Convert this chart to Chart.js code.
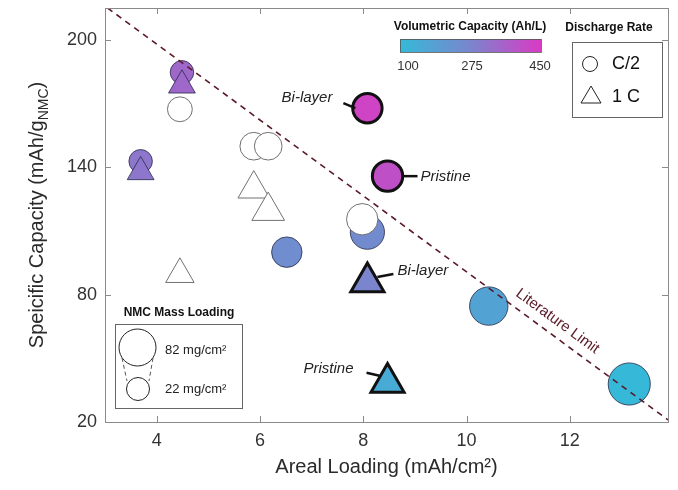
<!DOCTYPE html>
<html>
<head>
<meta charset="utf-8">
<script src="https://cdn.jsdelivr.net/npm/chart.js@4.4.1/dist/chart.umd.min.js"></script>
<style>
  html, body { margin: 0; padding: 0; background: #fff; }
  #wrap { width: 678px; height: 490px; position: relative; }
</style>
</head>
<body>
<div id="wrap"><canvas id="capChart"></canvas></div>
<script>
// axis ticks
var xTicks = [4, 6, 8, 10, 12];
var yTicks = [20, 80, 140, 200];

// C/2 points (circles): areal loading, specific capacity, volumetric capacity (null = not measured), NMC mass loading
var circleX    = [4.49, 4.45, 3.69, 5.88, 6.16, 6.52, 8.08, 7.98, 8.08, 8.47, 10.43, 13.15];
var circleY    = [184.7, 167.3, 142.8, 149.9, 149.9, 100.0, 109.4, 115.5, 167.8, 135.8, 74.6, 37.9];
var circleVol  = [345, null, 310, null, null, 250, 255, null, 430, 400, 175, 105];
var circleMass = [24, 30, 24, 42, 42, 54, 70, 58, 58, 62, 88, 104];
var circleTag  = ['', '', '', '', '', '', '', '', 'Bi-layer', 'Pristine', '', ''];

// 1 C points (triangles)
var triX    = [4.49, 3.69, 5.88, 6.16, 4.45, 8.08, 8.47];
var triY    = [178.6, 137.8, 129.8, 119.4, 89.6, 85.9, 38.5];
var triVol  = [345, 310, null, null, null, 275, 150];
var triMass = [24, 24, 42, 46, 30, 54, 54];
var triTag  = ['', '', '', '', '', 'Bi-layer', 'Pristine'];

// literature limit line
var limitX = [3.05, 13.9];
var limitY = [215, 21];

// colorbar
var volMin = 100, volMid = 275, volMax = 450;
var legendMass = [82, 22];

var cmapStops = [[volMin, [52, 186, 216]], [volMid, [122, 133, 206]], [volMax, [218, 58, 196]]];

function volColor(v) {
    if (v === null) return '#ffffff';
    var a = cmapStops[0], b = cmapStops[1];
    if (v > cmapStops[1][0]) { a = cmapStops[1]; b = cmapStops[2]; }
    var t = Math.max(0, Math.min(1, (v - a[0]) / (b[0] - a[0])));
    var c = [0, 1, 2].map(function (k) { return Math.round(a[1][k] + (b[1][k] - a[1][k]) * t); });
    return 'rgb(' + c.join(',') + ')';
}
function massRadius(m) { return 11.5 + (m - 22) * 7 / 60; }

function points(xs, ys) { return xs.map(function (x, i) { return { x: x, y: ys[i] }; }); }
function edge(vol, tag) { return tag ? '#111111' : (vol === null ? '#707070' : 'rgba(45,50,80,0.85)'); }

var circleData = {
    label: 'C/2',
    data: points(circleX, circleY),
    pointStyle: 'circle',
    pointRadius: circleMass.map(function (m, i) { return massRadius(m) - (circleTag[i] ? 1 : 0); }),
    backgroundColor: circleVol.map(volColor),
    borderColor: circleVol.map(function (v, i) { return edge(v, circleTag[i]); }),
    borderWidth: circleTag.map(function (t) { return t ? 3 : 1; }),
    order: 2
};
var triData = {
    label: '1 C',
    data: points(triX, triY),
    pointStyle: 'triangle',
    pointRadius: triMass.map(function (m, i) { return massRadius(m) * 1.32 - (triTag[i] ? 1 : 0); }),
    backgroundColor: triVol.map(volColor),
    borderColor: triVol.map(function (v, i) { return edge(v, triTag[i]); }),
    borderWidth: triTag.map(function (t) { return t ? 3 : 1; }),
    order: 1
};
var limitData = {
    label: 'Literature Limit',
    type: 'line',
    data: points(limitX, limitY),
    borderColor: '#5a1a28',
    borderWidth: 1.6,
    borderDash: [6, 5],
    pointRadius: 0,
    fill: false,
    order: 0
};

// label offsets (pixels) from the marker centre
var notes = [
    { ds: 2, idx: 8, tx: -35, ty: -10, align: 'right', l: [-24, -5, -12, 0] },
    { ds: 2, idx: 9, tx: 33, ty: 1, align: 'left', l: [15, 0, 30, 0] },
    { ds: 1, idx: 5, tx: 30, ty: -11, align: 'left', l: [10, -5, 26, -8] },
    { ds: 1, idx: 6, tx: -34, ty: -14, align: 'right', l: [-21, -10, -8, -7] }
];

function line(c, x1, y1, x2, y2) { c.beginPath(); c.moveTo(x1, y1); c.lineTo(x2, y2); c.stroke(); }

var decor = {
    id: 'decor',
    afterDatasetsDraw: function (chart) {
        var c = chart.ctx, a = chart.chartArea, xs = chart.scales.x, ys = chart.scales.y;
        c.save();

        // frame with inward ticks
        c.strokeStyle = '#8a8a8a';
        c.lineWidth = 1;
        c.strokeRect(a.left + 0.5, a.top + 0.5, a.right - a.left, a.bottom - a.top);
        xTicks.forEach(function (v) {
            var px = Math.round(xs.getPixelForValue(v)) + 0.5;
            line(c, px, a.bottom, px, a.bottom - 6);
            line(c, px, a.top, px, a.top + 6);
        });
        yTicks.forEach(function (v) {
            var py = Math.round(ys.getPixelForValue(v)) + 0.5;
            line(c, a.left, py, a.left + 6, py);
            line(c, a.right, py, a.right - 6, py);
        });

        // axis titles
        c.fillStyle = '#2a2a2a';
        c.font = '20px "Liberation Sans", Arial, sans-serif';
        c.textAlign = 'center';
        c.textBaseline = 'middle';
        c.fillText('Areal Loading (mAh/cm\u00b2)', (a.left + a.right) / 2, 467);

        c.save();
        c.translate(36, (a.top + a.bottom) / 2);
        c.rotate(-Math.PI / 2);
        var main = 'Speicific Capacity (mAh/g', sub = 'NMC', tail = ')';
        c.font = '20px "Liberation Sans", Arial, sans-serif';
        var w1 = c.measureText(main).width, w3 = c.measureText(tail).width;
        c.font = '14px "Liberation Sans", Arial, sans-serif';
        var w2 = c.measureText(sub).width;
        var x0 = -(w1 + w2 + w3) / 2;
        c.textAlign = 'left';
        c.textBaseline = 'alphabetic';
        c.font = '20px "Liberation Sans", Arial, sans-serif';
        c.fillText(main, x0, 7);
        c.font = '14px "Liberation Sans", Arial, sans-serif';
        c.fillText(sub, x0 + w1, 12);
        c.font = '20px "Liberation Sans", Arial, sans-serif';
        c.fillText(tail, x0 + w1 + w2, 7);
        c.restore();

        // literature limit label
        var lx = xs.getPixelForValue(11.6);
        var ly = ys.getPixelForValue(limitY[0] + (11.6 - limitX[0]) * (limitY[1] - limitY[0]) / (limitX[1] - limitX[0]));
        var ang = Math.atan2(ys.getPixelForValue(limitY[1]) - ys.getPixelForValue(limitY[0]),
                             xs.getPixelForValue(limitX[1]) - xs.getPixelForValue(limitX[0]));
        c.save();
        c.translate(lx + Math.sin(ang) * 14, ly - Math.cos(ang) * 14);
        c.rotate(ang);
        c.fillStyle = '#5a1a28';
        c.font = '15px "Liberation Sans", Arial, sans-serif';
        c.textAlign = 'center';
        c.textBaseline = 'middle';
        c.fillText('Literature Limit', 0, 0);
        c.restore();

        // point notes
        c.strokeStyle = '#111';
        c.lineWidth = 2.5;
        c.fillStyle = '#222';
        c.font = 'italic 15px "Liberation Sans", Arial, sans-serif';
        c.textBaseline = 'middle';
        notes.forEach(function (n) {
            var el = chart.getDatasetMeta(n.ds).data[n.idx];
            var tag = n.ds === 2 ? circleTag[n.idx] : triTag[n.idx];
            line(c, el.x + n.l[0], el.y + n.l[1], el.x + n.l[2], el.y + n.l[3]);
            c.textAlign = n.align;
            c.fillText(tag, el.x + n.tx, el.y + n.ty);
        });

        // colorbar
        c.font = 'bold 12px "Liberation Sans", Arial, sans-serif';
        c.textAlign = 'center';
        c.fillStyle = '#111';
        c.fillText('Volumetric Capacity (Ah/L)', 470, 27);
        var g = c.createLinearGradient(400, 0, 541, 0);
        cmapStops.forEach(function (s) { g.addColorStop((s[0] - volMin) / (volMax - volMin), volColor(s[0])); });
        c.fillStyle = g;
        c.fillRect(400, 39, 141, 13);
        c.lineWidth = 0.8;
        c.strokeStyle = '#555';
        c.strokeRect(400.5, 39.5, 141, 13);
        c.fillStyle = '#333';
        c.font = '13px "Liberation Sans", Arial, sans-serif';
        c.textAlign = 'center';
        c.fillText(String(volMin), 408, 66);
        c.fillText(String(volMid), 472, 66);
        c.fillText(String(volMax), 540, 66);

        // discharge rate legend
        c.fillStyle = '#111';
        c.font = 'bold 12px "Liberation Sans", Arial, sans-serif';
        c.fillText('Discharge Rate', 609, 28);
        c.strokeStyle = '#666';
        c.lineWidth = 1;
        c.strokeRect(572.5, 42.5, 90, 75);
        c.strokeStyle = '#222';
        c.beginPath(); c.arc(590, 64, 7.5, 0, Math.PI * 2); c.stroke();
        c.beginPath(); c.moveTo(591, 86); c.lineTo(601, 103); c.lineTo(581, 103); c.closePath(); c.stroke();
        c.fillStyle = '#111';
        c.font = '18px "Liberation Sans", Arial, sans-serif';
        c.textAlign = 'left';
        c.fillText('C/2', 612, 64);
        c.fillText('1 C', 612, 97);

        // mass loading legend
        c.font = 'bold 12px "Liberation Sans", Arial, sans-serif';
        c.textAlign = 'center';
        c.fillText('NMC Mass Loading', 179, 313);
        c.strokeStyle = '#666';
        c.strokeRect(115.5, 324.5, 127, 84);
        var rBig = massRadius(legendMass[0]), rSmall = massRadius(legendMass[1]);
        c.strokeStyle = '#222';
        c.beginPath(); c.arc(137.5, 347.5, rBig, 0, Math.PI * 2); c.stroke();
        c.beginPath(); c.arc(138, 389, rSmall, 0, Math.PI * 2); c.stroke();
        c.setLineDash([4, 3]);
        c.strokeStyle = '#555';
        line(c, 122, 358, 127, 381);
        line(c, 153, 358, 149, 381);
        c.setLineDash([]);
        c.fillStyle = '#222';
        c.font = '13px "Liberation Sans", Arial, sans-serif';
        c.textAlign = 'left';
        c.fillText(legendMass[0] + ' mg/cm\u00b2', 165, 350);
        c.fillText(legendMass[1] + ' mg/cm\u00b2', 165, 389);

        c.restore();
    }
};

var ctx = document.getElementById('capChart').getContext('2d');
var capChart = new Chart(ctx, {
    type: 'scatter',
    data: { datasets: [limitData, triData, circleData] },
    options: {
        responsive: true,
        maintainAspectRatio: false,
        animation: false,
        events: [],
        layout: { autoPadding: false, padding: { top: 8, right: 10, left: 0, bottom: 0 } },
        plugins: { legend: { display: false }, tooltip: { enabled: false } },
        elements: { point: { hoverRadius: 0 } },
        scales: {
            x: {
                type: 'linear',
                min: 3,
                max: 13.9,
                afterBuildTicks: function (s) { s.ticks = xTicks.map(function (v) { return { value: v }; }); },
                afterFit: function (s) { s.height = 68; s.paddingLeft = 0; s.paddingRight = 0; },
                grid: { display: false, drawTicks: false },
                border: { display: false },
                ticks: { color: '#333', padding: 8, font: { size: 18, family: '"Liberation Sans", Arial, sans-serif' } }
            },
            y: {
                type: 'linear',
                min: 20,
                max: 215,
                afterBuildTicks: function (s) { s.ticks = yTicks.map(function (v) { return { value: v }; }); },
                afterFit: function (s) { s.width = 105; s.paddingTop = 0; s.paddingBottom = 0; },
                grid: { display: false, drawTicks: false },
                border: { display: false },
                ticks: { color: '#333', padding: 8, font: { size: 18, family: '"Liberation Sans", Arial, sans-serif' } }
            }
        }
    },
    plugins: [decor]
});
</script>
</body>
</html>
